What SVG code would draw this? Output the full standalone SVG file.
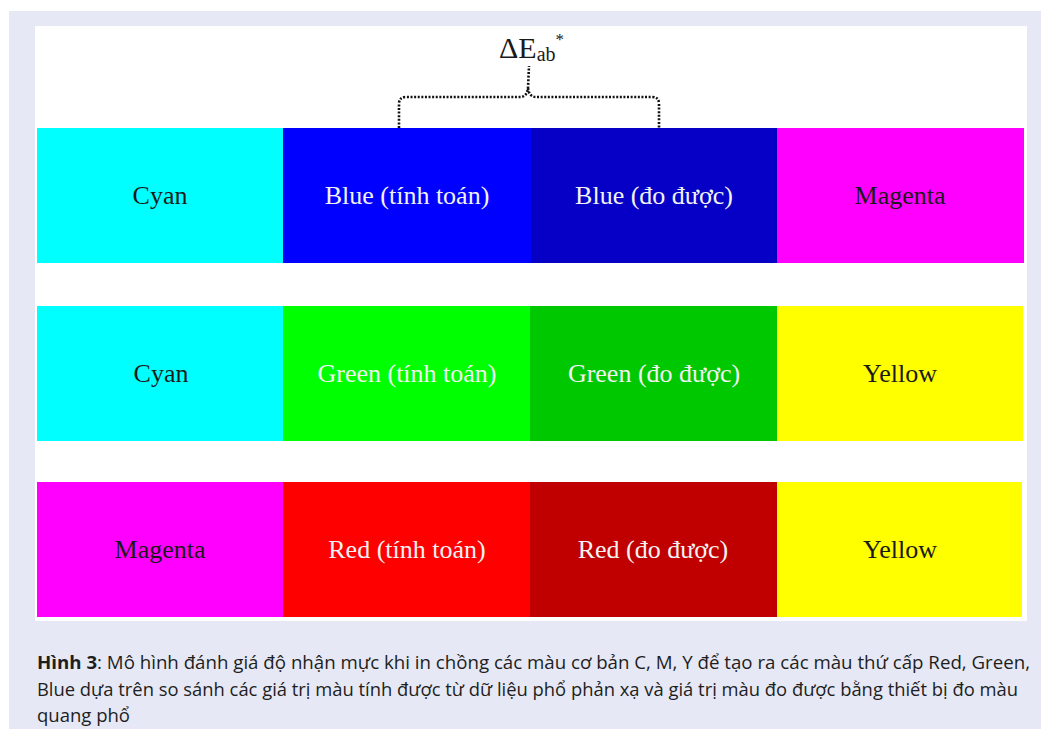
<svg xmlns="http://www.w3.org/2000/svg" width="1044" height="731" viewBox="0 0 1044 731">
  <style>
    .lbl { font-family: "Liberation Serif", "DejaVu Serif", serif; font-size: 26px; text-anchor: middle; }
    .dark { fill: #1a1a1a; }
    .light { fill: #f2f2f2; }
    .cap { font-family: "Open Sans", "Noto Sans", "Liberation Sans", sans-serif; font-size: 18px; fill: #1e1e1e; }
    .brace { fill: none; stroke: #111; stroke-width: 2.6; stroke-dasharray: 2 1.6; }
  </style>
  <rect x="9" y="11" width="1032" height="718" fill="#e6e9f5"/>
  <rect x="35" y="26" width="992" height="595" fill="#ffffff"/>

  <g id="label-deltaE">
    <text x="499" y="58" font-family="Liberation Serif, DejaVu Serif, serif" font-size="30" fill="#1a1a1a">ΔE<tspan font-size="20" dy="3">ab</tspan><tspan font-size="17" dy="-16">*</tspan></text>
  </g>

  <g id="connectors">
    <path class="brace" d="M399 128 L399 104 Q399 97 406 97 L520 97 Q527 97 528 88 L529 66 M528 88 Q529 97 536 97 L652 97 Q659 97 659 104 L659 128"/>
  </g>

  <g id="row1">
    <g id="cyan1"><rect x="37" y="128" width="246" height="135" fill="#00ffff"/><text class="lbl dark" x="160" y="204">Cyan</text></g>
    <g id="blue-calc"><rect x="283" y="128" width="248" height="135" fill="#0000ff"/><text class="lbl light" x="407" y="204">Blue (tính toán)</text></g>
    <g id="blue-meas"><rect x="531" y="128" width="246" height="135" fill="#0600c6"/><text class="lbl light" x="654" y="204">Blue (đo được)</text></g>
    <g id="magenta1"><rect x="777" y="128" width="247" height="135" fill="#ff00ff"/><text class="lbl dark" x="900" y="204">Magenta</text></g>
  </g>

  <g id="row2">
    <g id="cyan2"><rect x="37" y="306" width="246" height="135" fill="#00ffff"/><text class="lbl dark" x="161" y="382">Cyan</text></g>
    <g id="green-calc"><rect x="283" y="306" width="247" height="135" fill="#00ff00"/><text class="lbl light" x="407" y="382">Green (tính toán)</text></g>
    <g id="green-meas"><rect x="530" y="306" width="247" height="135" fill="#00c800"/><text class="lbl light" x="654" y="382">Green (đo được)</text></g>
    <g id="yellow2"><rect x="777" y="306" width="246" height="135" fill="#ffff00"/><text class="lbl dark" x="900" y="382">Yellow</text></g>
  </g>

  <g id="row3">
    <g id="magenta3"><rect x="37" y="482" width="246" height="135" fill="#ff00ff"/><text class="lbl dark" x="160" y="558">Magenta</text></g>
    <g id="red-calc"><rect x="283" y="482" width="247" height="135" fill="#ff0000"/><text class="lbl light" x="407" y="558">Red (tính toán)</text></g>
    <g id="red-meas"><rect x="530" y="482" width="247" height="135" fill="#c00000"/><text class="lbl light" x="653" y="558">Red (đo được)</text></g>
    <g id="yellow3"><rect x="777" y="482" width="245" height="135" fill="#ffff00"/><text class="lbl dark" x="900" y="558">Yellow</text></g>
  </g>

  <g id="caption">
    <text class="cap" x="37" y="669" textLength="993" lengthAdjust="spacingAndGlyphs"><tspan font-weight="bold">Hình 3</tspan>: Mô hình đánh giá độ nhận mực khi in chồng các màu cơ bản C, M, Y để tạo ra các màu thứ cấp Red, Green,</text>
    <text class="cap" x="37" y="696" textLength="981" lengthAdjust="spacingAndGlyphs">Blue dựa trên so sánh các giá trị màu tính được từ dữ liệu phổ phản xạ và giá trị màu đo được bằng thiết bị đo màu</text>
    <text class="cap" x="37" y="722" textLength="93" lengthAdjust="spacingAndGlyphs">quang phổ</text>
  </g>
</svg>
